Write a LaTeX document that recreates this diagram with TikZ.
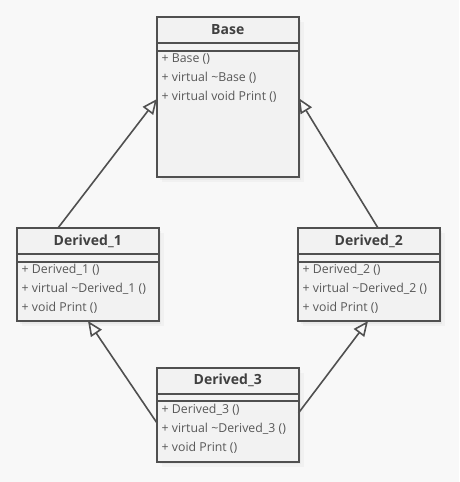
\documentclass[tikz,border=0pt]{standalone}
\usepackage{fontspec}
\setmainfont{Open Sans}
\usetikzlibrary{arrows.meta,shadows}
\definecolor{bgcol}{HTML}{F8F8F8}
\definecolor{boxfill}{HTML}{F2F2F2}
\definecolor{edge}{HTML}{505050}
\definecolor{headtxt}{HTML}{404040}
\definecolor{membertxt}{HTML}{585858}
\tikzset{
  x = 1pt,
  y = -1pt, % screen-like: y grows downwards
  classbox/.style = { % outer box of a class
    rectangle,
    draw = edge,
    fill = boxfill,
    line width = 2pt,
    minimum width = 141.5pt,
    minimum height = #1, % argument = box height
    inner sep = 0pt,
    outer sep = 0pt,
    anchor = north west,
    drop shadow = {opacity=.05, shadow xshift=5pt, shadow yshift=-5pt}, % soft outer shadow
    drop shadow = {opacity=.08, shadow xshift=2.5pt, shadow yshift=-2.5pt}, % inner shadow
  },
  classname/.style = { % bold class name in the head
    font = \fontsize{14}{16}\selectfont\bfseries,
    text = headtxt,
    inner sep = 0pt,
  },
  member/.style = { % one line of the member list
    font = \fontsize{12.3}{14}\selectfont,
    text = membertxt,
    anchor = west,
    inner sep = 0pt,
  },
  divider/.style = {draw = edge, line width = 2pt},
  inherit/.style = { % generalisation arrow
    draw = edge,
    line width = 1.6pt,
    -{Triangle[length=15pt,width=13pt,fill=bgcol]},
  },
}
\newcommand{\umlclass}[7]{ % #1=name,#2=top left,#3=height,#4=title,#5-#7=members
  \node[classbox=#3] (#1) at #2 {};
  \node[classname] (#1-t) at ([yshift=-13pt]#1.north) {#4}; % head
  \draw[divider] ([yshift=-26pt]#1.north west) -- ([yshift=-26pt]#1.north east); % under head
  \draw[divider] ([yshift=-33.5pt]#1.north west) -- ([yshift=-33.5pt]#1.north east); % empty attributes
  \node[member] (#1-m1) at ([xshift=4.5pt,yshift=-42pt]#1.north west) {+ #5};
  \node[member] (#1-m2) at ([yshift=-19pt]#1-m1.west) {+ #6};
  \node[member] (#1-m3) at ([yshift=-19pt]#1-m2.west) {+ #7};
}

\begin{document}
\begin{tikzpicture}
    \fill[bgcol] (0,0) rectangle (459,482); % page background
    \useasboundingbox (0,0) rectangle (459,482);
    % classes
    \umlclass{base}{(157,17)}{160pt}{Base}{Base ()}{virtual \textasciitilde Base ()}{virtual void Print ()}
    \umlclass{d1}{(17,228)}{93pt}{Derived\_1}{Derived\_1 ()}{virtual \textasciitilde Derived\_1 ()}{void Print ()}
    \umlclass{d2}{(298,228)}{93pt}{Derived\_2}{Derived\_2 ()}{virtual \textasciitilde Derived\_2 ()}{void Print ()}
    \umlclass{d3}{(157,367.5)}{94pt}{Derived\_3}{Derived\_3 ()}{virtual \textasciitilde Derived\_3 ()}{void Print ()}
    % inheritance
    \draw[inherit] ([xshift=41pt]d1.north west) -- ([yshift=-82pt]base.north west);
    \draw[inherit] ([xshift=80pt]d2.north west) -- ([yshift=-81pt]base.north east);
    \draw[inherit] ([yshift=-55.5pt]d3.north west) -- ([xshift=71pt]d1.south west);
    \draw[inherit] ([yshift=-45.5pt]d3.north east) -- ([xshift=70pt]d2.south west);
  \end{tikzpicture}
\end{document}
